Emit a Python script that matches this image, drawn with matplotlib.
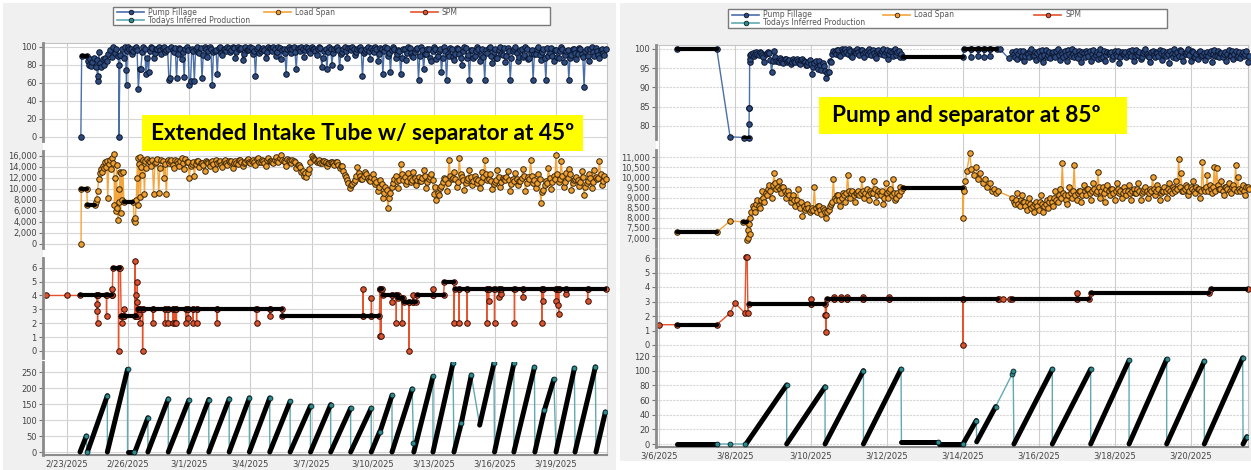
import matplotlib.pyplot as plt
from matplotlib.patches import Rectangle
from matplotlib.ticker import FuncFormatter

W, H = 1251, 470

# ---------------- left chart (x = days after 2/23/2025) ----------------
L_TICKS = [0, 3, 6, 9, 12, 15, 18, 21, 24]
L_LABELS = ["2/23/2025", "2/26/2025", "3/1/2025", "3/4/2025", "3/7/2025",
            "3/10/2025", "3/13/2025", "3/16/2025", "3/19/2025"]

# pump fillage (%)
PF_L_POINTS = [(0.68, 0), (1.02, 84), (1.08, 80), (1.12, 86), (1.2, 79), (1.25, 83),
               (1.32, 88), (1.4, 77), (1.45, 85), (1.5, 62), (1.52, 68), (1.55, 94),
               (1.6, 82), (1.68, 78), (1.75, 86), (1.8, 80), (1.88, 88), (1.95, 84),
               (2.0, 92), (2.1, 96), (2.2, 89), (2.28, 100), (2.35, 93), (2.42, 98),
               (2.5, 90), (2.54, 80), (2.55, 0), (2.6, 91), (2.7, 97), (2.8, 88),
               (2.86, 100), (2.9, 74), (2.92, 57), (2.96, 95)]
PF_L_RUNS = [(0.72, 0.97, 90)]
PF_L_GRID_START, PF_L_GRID_STEP = 3.0, 0.125
PF_L_GRID = [
    100, 98, 95, 100, 53, 75, 100, 70,
    72, 100, 88, 97, 100, 92, 100, 96,
    63, 100, 94, 65, 99, 86, 66, 100,
    58, 97, 62, 100, 93, 65, 100, 89,
    100, 57, 95, 70, 100, 91, 98, 100,
    94, 100, 88, 100, 97, 85, 100, 96,
    100, 92, 67, 100, 95, 99, 87, 100,
    97, 100, 90, 100, 86, 98, 70, 100,
    93, 100, 75, 97, 100, 89, 100, 95,
    100, 98, 91, 100, 78, 95, 75, 100,
    80, 97, 100, 77, 94, 100, 88, 99,
    100, 91, 97, 100, 67, 95, 100, 86,
    96, 100, 84, 99, 70, 100, 90, 72,
    100, 88, 96, 70, 98, 85, 100, 93,
    89, 97, 63, 100, 75, 92, 98, 84,
    100, 86, 95, 72, 100, 63, 90, 97,
    85, 99, 92, 80, 100, 88, 63, 96,
    90, 100, 84, 97, 63, 93, 100, 82,
    98, 87, 100, 91, 83, 99, 63, 95,
    100, 84, 96, 89, 100, 86, 93, 63,
    92, 100, 85, 97, 63, 90, 99, 84,
    96, 88, 100, 83, 95, 63, 91, 98,
    86, 99, 92, 55, 97, 84, 100, 90,
    95, 88, 98, 91]
PF_L_GRID_B_START = 3.0625
PF_L_GRID_B = [
    97, 92, 99, 96, 75, 94, 98, 88,
    95, 99, 93, 98, 96, 99, 94, 97,
    65, 96, 99, 92, 97, 94, 98, 96,
    62, 95, 98, 94, 99, 91, 97, 95,
    98, 94, 96, 99, 93, 97, 95, 99,
    96, 99, 94, 97, 99, 92, 96, 98,
    99, 95, 97, 93, 98, 96, 94, 99,
    95, 98, 94, 99, 96, 93, 97, 98,
    97, 94, 99, 95, 98, 96, 99, 93,
    98, 95, 97, 99, 88, 97, 94, 98,
    93, 99, 96, 92, 98, 95, 99, 96,
    97, 94, 99, 96, 93, 98, 95, 99,
    94, 97, 92, 98, 95, 99, 93, 96,
    98, 92, 95, 88, 97, 93, 99, 90,
    94, 99, 90, 96, 92, 98, 88, 95,
    97, 90, 98, 88, 95, 92, 99, 89,
    92, 97, 88, 95, 99, 91, 96, 87,
    95, 98, 91, 89, 96, 99, 90, 94,
    88, 96, 92, 99, 90, 95, 87, 98,
    93, 89, 97, 91, 98, 88, 96, 92,
    97, 91, 94, 88, 99, 93, 90, 96,
    89, 95, 98, 91, 96, 88, 97, 93,
    92, 98, 89, 95, 90, 97, 94, 99,
    91, 96, 93, 97]

# load span
LS_L_POINTS = [(0.69, 0), (1.4, 7500), (1.45, 8200), (1.5, 9500), (1.55, 11800),
               (1.6, 12800), (1.65, 13500), (1.7, 13000), (1.75, 14200), (1.8, 13800),
               (1.85, 14800), (1.9, 14000), (1.95, 15000), (2.0, 8300), (2.05, 14500),
               (2.1, 15200), (2.15, 13500), (2.2, 15600), (2.25, 14600), (2.3, 16400),
               (2.33, 7000), (2.36, 12000), (2.4, 6000), (2.43, 14300), (2.46, 6500),
               (2.5, 4300), (2.53, 10000), (2.56, 7500), (2.6, 13000), (2.63, 5500),
               (2.66, 12800), (2.7, 8000), (2.75, 13000), (3.3, 4300), (3.33, 4000),
               (3.36, 4600), (3.4, 8000), (3.43, 12000), (3.46, 15500), (3.5, 7000),
               (3.53, 14500), (3.56, 15800), (3.6, 8500), (3.65, 14000), (3.7, 12500),
               (3.75, 15200), (3.8, 9000), (3.85, 15000), (3.9, 13800), (3.95, 15400)]
LS_L_RUNS = [(0.70, 0.97, 10000), (1.0, 1.37, 7100), (2.79, 3.25, 7600)]
LS_L_GRID_START, LS_L_GRID_STEP = 4.0, 0.125
LS_L_GRID = [
    15000, 14200, 9000, 14800, 9200, 15300, 12000, 9000,
    14600, 15200, 13800, 15000, 14200, 15500, 13500, 14800,
    12000, 14500, 12300, 15000, 13900, 14600, 13200, 14900,
    14200, 15100, 13600, 14700, 15000, 14000, 15200, 14400,
    14800, 13800, 15000, 14500, 15300, 14100, 14900, 15400,
    14600, 15200, 14300, 15600, 14800, 15000, 14200, 15500,
    15100, 14600, 15700, 14900, 16100, 15000, 14200, 15300,
    14600, 15000, 13800, 14400, 13000, 12400, 12200, 13500,
    16000, 15400, 14800, 15300, 14600, 15000, 14100, 14700,
    14900, 14300, 14800, 13800, 14200, 12500, 11500, 10100,
    10800, 11600, 14000, 12300, 11800, 13000, 12000, 11400,
    12600, 10800, 9500, 11500, 8400, 10300, 6500, 9200,
    11000, 12400, 10200, 14500, 11600, 10800, 12800, 11200,
    13000, 10600, 12200, 11400, 13400, 10100, 11800, 12600,
    9000, 8000, 8800, 10500, 12000, 9600, 15200, 11800,
    13000, 10400, 15600, 12200, 9800, 11600, 13400, 10600,
    12400, 11000, 10200, 13000, 15200, 11500, 12600, 9900,
    11200, 13400, 10400, 12000, 11600, 13200, 9600, 11800,
    12800, 10600, 11400, 13600, 9500, 12200, 15200, 11000,
    10200, 12600, 7400, 9800, 11400, 13800, 10000, 12400,
    16100, 11200, 15000, 10400, 12800, 13600, 9800, 11600,
    12200, 10500, 13200, 8800, 11000, 12600, 10200, 13400,
    11800, 15000, 10600, 12400]
LS_L_GRID_B_START = 4.0625
LS_L_GRID_B = [
    14800, 15200, 14600, 15400, 13800, 15000, 14500, 15200,
    15000, 14400, 15300, 14700, 15100, 14600, 15400, 14900,
    14200, 14900, 14500, 15100, 14700, 14300, 15000, 14600,
    14900, 14500, 15200, 14800, 14400, 15100, 14700, 15000,
    15100, 14700, 14600, 15200, 14900, 14600, 15300, 14800,
    15000, 14800, 15400, 14900, 15200, 14700, 15300, 15000,
    14800, 15300, 15000, 15500, 15200, 14900, 15400, 15100,
    15200, 14800, 14300, 14000, 13200, 12800, 12900, 14800,
    15600, 15200, 15000, 14700, 15100, 14800, 14600, 14900,
    14600, 14900, 14400, 14100, 13300, 12200, 11000, 10600,
    11200, 12400, 12800, 11800, 12400, 12600, 11600, 12200,
    11800, 11200, 10400, 10800, 9200, 9800, 8400, 10400,
    11800, 11400, 11600, 12600, 12200, 11400, 12000, 11600,
    12000, 11600, 11400, 12000, 12400, 11200, 12200, 11600,
    10400, 9200, 10200, 11200, 11800, 11000, 12400, 12000,
    11800, 11200, 12600, 11600, 11000, 12000, 12200, 11400,
    11800, 11600, 11200, 12200, 12600, 11800, 11400, 10800,
    11600, 12200, 11200, 11800, 12200, 11600, 10800, 11400,
    11800, 11400, 12000, 12400, 11000, 11800, 12400, 11600,
    11000, 11800, 9400, 10600, 11000, 12000, 11200, 11800,
    12600, 11800, 12400, 11200, 12000, 12600, 11000, 11800,
    11600, 11200, 12200, 10400, 11400, 12000, 11200, 12200,
    12000, 12600, 11400, 11800]

# strokes per minute
SPM_L_POINTS = [(-1.04, 4.0), (-0.02, 4.0)]
SPM_L_RUNS = [(0.64, 2.22, 4.0), (2.25, 2.62, 6.0), (2.66, 3.45, 2.5), (3.5, 10.55, 3.0),
              (10.57, 15.33, 2.5), (15.36, 15.46, 4.5), (15.5, 16.22, 4.0),
              (16.25, 16.48, 3.8), (16.52, 17.12, 3.55), (17.2, 18.48, 4.0),
              (18.52, 18.98, 5.0), (19.02, 26.45, 4.5)]
SPM_L_SPIKES = [(1.49, 3.4), (1.49, 2.9), (1.5, 2.0), (1.94, 2.5), (2.2, 4.5), (2.53, 0.0),
                (2.72, 2.0), (2.78, 3.0), (3.33, 6.5), (3.4, 4.0), (3.42, 3.5), (3.45, 5.0),
                (3.55, 2.7), (3.6, 2.0), (3.71, 0.0), (4.23, 2.0), (4.8, 2.0), (4.97, 2.0),
                (5.21, 2.0), (5.29, 2.0), (5.37, 2.0), (5.83, 2.0), (5.95, 2.4), (6.19, 2.0),
                (6.36, 2.0), (7.37, 2.0), (9.3, 2.0), (9.95, 2.5), (14.52, 4.5), (14.94, 3.8),
                (15.38, 1.1), (15.42, 1.1), (15.96, 3.5), (16.16, 2.0), (16.45, 2.0),
                (16.78, 0.0), (16.98, 4.0), (17.94, 4.5), (18.99, 2.0), (19.23, 2.0),
                (19.64, 2.0), (20.6, 2.0), (20.69, 3.6), (20.98, 2.0), (21.2, 3.9),
                (21.3, 4.1), (21.96, 2.0), (22.37, 3.9), (23.3, 2.0), (23.38, 3.6),
                (24.0, 3.6), (24.08, 3.3), (24.13, 2.7), (24.5, 4.1), (25.55, 3.6)]

# todays inferred production: (t start, t end, value start, value end)
PROD_L_RAMPS = [(0.64, 0.95, 0, 50), (1.0, 1.98, 0, 176), (1.98, 2.97, 0, 258),
                (2.97, 3.3, 0, 0), (3.33, 3.97, 0, 107), (3.97, 4.97, 0, 166),
                (4.97, 5.98, 0, 162), (5.98, 6.96, 0, 164), (6.96, 7.96, 0, 166),
                (7.96, 8.95, 0, 169), (8.95, 9.95, 0, 169), (9.95, 10.95, 0, 158),
                (10.95, 11.95, 0, 144), (11.95, 12.94, 0, 148), (12.94, 13.92, 0, 137),
                (13.92, 14.93, 0, 137), (14.93, 15.34, 0, 63), (15.36, 15.95, 63, 177),
                (15.95, 16.94, 0, 197), (17.02, 17.96, 0, 236), (17.96, 18.94, 0, 277),
                (18.99, 19.35, 0, 90), (19.35, 19.84, 90, 240), (20.25, 20.95, 84, 277),
                (20.98, 21.93, 0, 277), (21.93, 22.94, 0, 265), (22.96, 23.43, 0, 131),
                (23.43, 23.89, 131, 227), (24.0, 24.9, 0, 262), (24.93, 25.93, 0, 266),
                (25.96, 26.42, 0, 125)]
PROD_L_EXTRA = [(0.98, 0), (17.0, 28)]

# ---------------- right chart (x = days after 3/6/2025) ----------------
R_TICKS = [0, 2, 4, 6, 8, 10, 12, 14]
R_LABELS = ["3/6/2025", "3/8/2025", "3/10/2025", "3/12/2025", "3/14/2025",
            "3/16/2025", "3/18/2025", "3/20/2025"]

PF_R_POINTS = [(1.87, 77.2), (2.37, 80.5), (2.375, 84.8), (2.38, 84.8), (2.385, 96.5),
               (2.39, 97.5), (8.97, 100.0), (9.2, 97.6)]
PF_R_RUNS = [(0.47, 1.52, 100.0), (2.24, 2.36, 77.0), (6.42, 8.0, 98.0), (8.02, 8.9, 100.0)]
PF_R_SPIKES = [(8.2, 98.0), (8.4, 98.2), (8.55, 97.8), (8.7, 98.1)]
PF_R_GRID_STEP = 0.0625
PF_R_GRID1_START = 2.4
PF_R_GRID1 = [
    98.5, 99.0, 98.6, 98.8, 99.2, 98.4, 96.5, 98.9, 99.0, 94.0, 99.4, 97.0, 96.5, 97.2, 96.4, 97.5,
    96.8, 96.2, 97.4, 96.6, 97.0, 96.0, 97.3, 96.5, 95.8, 97.1, 93.5, 96.4, 95.2, 96.8, 94.6, 95.5,
    92.5, 94.0, 96.6, 99.5, 98.6, 99.8, 98.2, 99.4, 100.0, 98.8, 99.6, 97.8, 99.2, 100.0, 98.5, 99.7,
    98.0, 99.5, 100.0, 98.4, 99.0, 97.6, 99.8, 98.7, 100.0, 99.1, 97.5, 99.6, 98.3, 100.0, 99.2, 98.0]
PF_R_GRID1B_START = 2.43125
PF_R_GRID1B = [
    98.8, 98.2, 99.1, 98.5, 98.9, 97.8, 98.6, 99.3, 97.2, 96.8, 97.9, 96.9, 97.6, 96.7, 97.3, 96.5,
    97.1, 96.5, 96.9, 97.5, 96.3, 97.2, 96.8, 95.9, 96.7, 96.2, 95.4, 97.0, 94.8, 95.9, 96.3, 94.2,
    93.8, 96.9, 98.8, 99.2, 99.7, 98.4, 99.9, 98.9, 99.3, 100.0, 98.2, 99.5, 98.9, 99.2, 99.8, 98.6,
    99.3, 98.6, 99.2, 99.7, 98.1, 99.4, 98.9, 99.6, 98.4, 99.8, 98.8, 99.1, 99.7, 98.5, 99.4, 98.8]
PF_R_GRID2_START = 9.3
PF_R_GRID2 = [
    99.2, 98.0, 97.4, 99.6, 98.3, 96.8, 99.0, 97.9, 100.0, 98.5, 97.2, 99.4, 98.1, 96.6, 99.7, 98.4,
    97.6, 99.3, 98.0, 100.0, 97.1, 98.8, 99.5, 96.9, 98.6, 99.9, 97.8, 98.2, 99.4, 96.5, 98.9, 99.6,
    98.3, 97.0, 99.8, 98.5, 97.4, 100.0, 98.0, 96.8, 99.1, 98.7, 97.5, 99.6, 98.2, 96.3, 99.3, 98.6,
    97.9, 99.5, 98.1, 96.9, 99.8, 98.4, 97.3, 99.0, 100.0, 98.2, 96.7, 99.4, 97.8, 98.9, 99.7, 97.2,
    98.5, 99.2, 96.4, 98.8, 99.9, 97.6, 98.3, 99.5, 97.0, 98.7, 100.0, 96.8, 99.1, 98.0, 97.5, 99.6,
    98.4, 97.1, 99.3, 98.9, 96.6, 99.7, 98.2, 97.8, 99.0, 98.6, 96.9, 99.8, 98.1, 97.4, 99.5, 98.3,
    97.7, 99.2, 98.8, 96.5]
PF_R_GRID2B_START = 9.33125
PF_R_GRID2B = [
    98.6, 99.4, 98.8, 97.9, 99.6, 98.2, 98.7, 99.5, 98.1, 99.2, 98.9, 97.6, 99.7, 98.4, 98.0, 99.3,
    98.9, 98.1, 99.6, 98.5, 99.1, 97.8, 98.4, 99.7, 98.2, 98.8, 99.4, 97.7, 98.6, 99.2, 98.0, 99.0,
    99.5, 98.6, 98.0, 99.3, 98.8, 97.6, 99.6, 98.4, 98.9, 99.2, 98.1, 98.7, 99.5, 97.9, 98.8, 99.1,
    98.4, 98.9, 99.7, 98.2, 98.6, 99.3, 98.0, 99.5, 98.7, 97.8, 99.1, 98.5, 99.2, 98.3, 98.9, 99.6,
    98.1, 98.8, 99.4, 97.9, 98.6, 99.2, 99.7, 98.0, 98.9, 99.3, 98.4, 99.5, 97.8, 98.7, 99.1, 98.2,
    99.0, 98.5, 98.1, 99.6, 98.8, 98.3, 99.4, 98.9, 97.9, 99.2, 98.6, 98.2, 99.5, 98.8, 98.0, 99.1,
    98.6, 98.3, 99.4, 98.1]

LS_R_POINTS = [(1.87, 7840), (2.32, 6900), (2.33, 7400), (2.35, 7000), (2.37, 7700),
               (2.39, 7200), (8.0, 7970), (8.02, 9300), (8.06, 9800), (8.1, 10300),
               (8.18, 11180), (8.22, 10400), (8.28, 10100), (8.34, 10500), (8.4, 9900),
               (8.46, 10200), (8.52, 9700), (8.58, 9900), (8.64, 9500), (8.7, 9700),
               (8.76, 9300), (8.82, 9400), (8.88, 9200), (8.92, 9300)]
LS_R_RUNS = [(0.47, 1.52, 7280), (2.21, 2.31, 7800), (6.42, 7.99, 9480)]
LS_R_GRID1_START = 2.4
LS_R_GRID1 = [
    8000, 8600, 8300, 8900, 8500, 9300, 8800, 9100, 9600, 9000, 10200, 9400, 9800, 9200, 9500, 9000,
    9300, 8800, 9100, 8600, 9400, 8500, 8100, 8400, 8700, 8300, 8500, 9500, 8300, 8600, 8200, 8400,
    8000, 8400, 8700, 9900, 8900, 9100, 8600, 9200, 8800, 10100, 9000, 9300, 8800, 9200, 9100, 9900,
    9000, 9400, 8900, 9200, 9800, 8800, 9300, 9100, 8700, 9700, 9000, 9400, 9900, 8900, 9200, 9500]
LS_R_GRID1B_START = 2.43125
LS_R_GRID1B = [
    8300, 8500, 8700, 8600, 8900, 9000, 9200, 9400, 9300, 9600, 9700, 9500, 9400, 9500, 9300, 9200,
    9100, 9000, 8900, 8900, 8700, 8800, 8600, 8500, 8500, 8400, 8400, 8500, 8600, 8400, 8500, 8300,
    8300, 8600, 8800, 9000, 9100, 8900, 9000, 9100, 9200, 9300, 9200, 9100, 9200, 9300, 9200, 9300,
    9200, 9100, 9300, 9200, 9400, 9100, 9200, 9300, 9000, 9200, 9300, 9100, 9200, 9000, 9100, 9300]
LS_R_GRID2_START = 9.3
LS_R_GRID2 = [
    9000, 8700, 9200, 8600, 9100, 8800, 8400, 9000, 8500, 8300, 8800, 8400, 9100, 8300, 8700, 8500,
    9000, 8600, 9300, 8800, 9400, 10690, 9100, 8700, 9500, 9000, 10600, 8900, 9300, 8800, 9600, 9100,
    9400, 8900, 9700, 9200, 10270, 9000, 9500, 8800, 9600, 9100, 9400, 8900, 9700, 9200, 9000, 9500,
    9100, 9600, 8900, 9400, 9200, 9700, 8900, 9300, 9500, 9000, 9400, 10030, 9100, 9600, 8900, 9300,
    9500, 9000, 9700, 9200, 9400, 9800, 10900, 10200, 9300, 9600, 9100, 9500, 9800, 9200, 9400, 9000,
    10770, 9300, 10100, 9600, 9200, 10500, 10450, 9400, 9800, 9100, 9500, 9700, 9200, 9600, 10600, 10000,
    9300, 9600, 9100, 9500]
LS_R_GRID2B_START = 9.33125
LS_R_GRID2B = [
    8800, 8900, 8700, 8900, 8800, 8600, 8800, 8700, 8600, 8700, 8600, 8800, 8700, 8600, 8900, 8800,
    8800, 9000, 8900, 9100, 9000, 9200, 8900, 9100, 9200, 9300, 9100, 9200, 9300, 9100, 9300, 9400,
    9200, 9300, 9400, 9300, 9500, 9300, 9200, 9400, 9300, 9400, 9200, 9300, 9400, 9300, 9200, 9300,
    9300, 9200, 9300, 9200, 9400, 9300, 9200, 9400, 9300, 9200, 9300, 9400, 9300, 9400, 9200, 9300,
    9300, 9400, 9300, 9500, 9300, 9400, 9500, 9300, 9400, 9500, 9300, 9400, 9300, 9500, 9400, 9300,
    9400, 9500, 9300, 9400, 9500, 9300, 9600, 9400, 9300, 9500, 9400, 9300, 9500, 9400, 9300, 9400,
    9400, 9300, 9500, 9400]

SPM_R_POINTS = [(0.0, 1.4), (1.87, 2.2), (2.0, 2.9), (2.26, 2.2), (2.29, 6.1), (2.32, 6.1),
                (2.34, 2.2), (4.38, 2.1), (4.39, 0.9), (4.4, 2.1), (8.95, 3.15),
                (9.05, 3.15), (9.24, 3.15)]
SPM_R_RUNS = [(0.47, 1.52, 1.4), (2.36, 4.37, 2.85), (4.42, 8.92, 3.15), (9.3, 11.32, 3.15),
              (11.36, 14.48, 3.58), (14.52, 15.5, 3.88)]
SPM_R_SPIKES = [(4.0, 3.2), (4.6, 3.3), (4.79, 3.3), (4.94, 3.3), (5.36, 3.3), (6.06, 3.3),
                (8.0, 0.0), (11.0, 3.6)]

PROD_R_RAMPS = [(0.47, 1.52, 0, 0), (2.29, 3.36, 0, 80.5), (3.36, 4.37, 0, 78),
                (4.37, 5.38, 0, 100), (5.38, 6.37, 0, 102), (6.38, 7.34, 3, 3),
                (7.36, 8.0, 0.5, 0.5), (8.0, 8.35, 0, 32), (8.36, 8.86, 3, 51),
                (9.34, 10.35, 0, 102), (10.35, 11.36, 0, 102), (11.36, 12.37, 0, 114),
                (12.37, 13.36, 0, 115.5), (13.36, 14.35, 0, 113), (14.35, 15.36, 0, 117.5),
                (15.37, 15.47, 0, 10)]
PROD_R_EXTRA = [(1.87, 0), (2.26, 0), (9.3, 96), (9.32, 100)]

# ---------------- styles ----------------
PF_ST = dict(line="#4b6fa8", face="#2d4a7c", edge="#0b1630")
LS_ST = dict(line="#f4a53c", face="#f0a030", edge="#3a2608")
SPM_ST = dict(line="#e5532c", face="#d9532f", edge="#3a1008")
PROD_ST = dict(line="#62aab2", face="#2e8a8f", edge="#0a2526")


def grid_points(start, step, vals):
    return [(start + i * step, v) for i, v in enumerate(vals)]


def merge(points, runs=(), spikes=()):
    items = list(points)
    for t0, t1, v in runs:
        items += [(t0, v), (t1, v)]
    for t, v in spikes:
        lvl = next((rv for r0, r1, rv in runs if r0 <= t <= r1), None)
        if lvl is None:
            items.append((t, v))
        else:
            items += [(t - 0.002, lvl), (t, v), (t + 0.002, lvl)]
    items.sort(key=lambda p: p[0])
    return [p[0] for p in items], [p[1] for p in items]


def ramp_path(ramps, extra):
    ts, vs = [], []
    ex = sorted(extra)
    for t0, t1, v0, v1 in ramps:
        while ex and ex[0][0] <= t0:
            t, v = ex.pop(0)
            ts.append(t)
            vs.append(v)
        ts += [t0, t1]
        vs += [v0, v1]
    for t, v in ex:
        ts.append(t)
        vs.append(v)
    return ts, vs


fig = plt.figure(figsize=(W / 100, H / 100), dpi=100)

bg = fig.add_axes([0, 0, 1, 1], zorder=-5)
bg.set_xlim(0, W)
bg.set_ylim(H, 0)
bg.axis("off")
bg.add_patch(Rectangle((3, 3), 613, 467, facecolor="#f0f0f0", edgecolor="none"))
bg.add_patch(Rectangle((620, 3), 631, 458, facecolor="#f0f0f0", edgecolor="none"))


def px_axes(x0, x1, ytop, ybot, z):
    return fig.add_axes([x0 / W, 1 - ybot / H, (x1 - x0) / W, (ybot - ytop) / H], zorder=z)


def frame(x0, x1, ytop, ybot, xlim, ticks, labels):
    ax = px_axes(x0, x1, ytop, ybot, 0)
    ax.set_facecolor("white")
    ax.set_xlim(*xlim)
    ax.set_ylim(0, 1)
    ax.set_yticks([])
    ax.set_xticks(ticks)
    ax.set_xticklabels(labels)
    ax.tick_params(axis="x", length=0, pad=3, labelsize=6, labelcolor="#444")
    ax.grid(axis="x", color="#cdcdcd", lw=0.8)
    for s in ("top", "right"):
        ax.spines[s].set_color("#c4c4c4")
        ax.spines[s].set_linewidth(0.8)
    ax.spines["left"].set_visible(False)
    ax.spines["bottom"].set_color("#8c8c8c")
    ax.spines["bottom"].set_linewidth(1.5)
    return ax


def panel(x0, x1, ytop, ybot, v_hi, y_hi, v_lo, y_lo, xlim, yticks, gls, fmt=None):
    ax = px_axes(x0, x1, ytop, ybot, 1)
    ax.set_facecolor("none")
    k = (v_hi - v_lo) / (y_lo - y_hi)
    ax.set_ylim(v_lo - (ybot - y_lo) * k, v_hi + (y_hi - ytop) * k)
    ax.set_xlim(*xlim)
    ax.set_xticks([])
    ax.set_yticks(yticks)
    if fmt:
        ax.yaxis.set_major_formatter(FuncFormatter(fmt))
    ax.tick_params(axis="y", labelsize=6, labelcolor="#444", color="#777",
                   length=3, width=0.8, pad=1.5)
    ax.grid(axis="y", color="#d6d6d6", lw=0.8, linestyle=gls)
    for s in ("top", "right", "bottom"):
        ax.spines[s].set_visible(False)
    ax.spines["left"].set_color("#8a8a8a")
    ax.spines["left"].set_linewidth(2)
    return ax


def draw_series(ax, ts, vs, runs, st):
    ax.plot(ts, vs, color=st["line"], lw=1.0, marker="o", ms=4.0, mfc=st["face"],
            mec=st["edge"], mew=0.7, zorder=2, clip_on=False)
    for t0, t1, v in runs:
        ax.plot([t0, t1], [v, v], color="black", lw=3.0, solid_capstyle="round", zorder=3)


def draw_prod(ax, ramps, extra, st):
    ts, vs = ramp_path(ramps, extra)
    ax.plot(ts, vs, color=st["line"], lw=1.0, zorder=2)
    for t0, t1, v0, v1 in ramps:
        ax.plot([t0, t1], [v0, v1], color="black", lw=3.6, solid_capstyle="round", zorder=3)
    ax.plot([r[1] for r in ramps], [r[3] for r in ramps], "o", ms=3.5, mfc=st["face"],
            mec=st["edge"], mew=0.6, zorder=4)
    ax.plot([e[0] for e in extra], [e[1] for e in extra], "o", ms=3.5, mfc=st["face"],
            mec=st["edge"], mew=0.6, zorder=4)


thou = lambda v, p: f"{v:,.0f}"

# ---- left chart ----
LX = (-1.178, 26.5)
frame(43, 607, 43, 455, LX, L_TICKS, L_LABELS)

ax = panel(43, 607, 43, 141, 100, 46.7, 0, 136.7, LX, [0, 20, 40, 60, 80, 100], "-")
pts = (PF_L_POINTS + grid_points(PF_L_GRID_START, PF_L_GRID_STEP, PF_L_GRID)
       + grid_points(PF_L_GRID_B_START, PF_L_GRID_STEP, PF_L_GRID_B))
t, v = merge(pts, PF_L_RUNS)
draw_series(ax, t, v, PF_L_RUNS, PF_ST)

ax = panel(43, 607, 151, 248, 16000, 155.7, 0, 243.7, LX, list(range(0, 16001, 2000)), "-", thou)
pts = (LS_L_POINTS + grid_points(LS_L_GRID_START, LS_L_GRID_STEP, LS_L_GRID)
       + grid_points(LS_L_GRID_B_START, LS_L_GRID_STEP, LS_L_GRID_B))
t, v = merge(pts, LS_L_RUNS)
draw_series(ax, t, v, LS_L_RUNS, LS_ST)

ax = panel(43, 607, 258, 358, 6, 267.7, 0, 351, LX, [0, 1, 2, 3, 4, 5, 6], "-")
t, v = merge(SPM_L_POINTS, SPM_L_RUNS, SPM_L_SPIKES)
draw_series(ax, t, v, SPM_L_RUNS, SPM_ST)

ax = panel(43, 607, 362, 455, 250, 372, 0, 452, LX, [0, 50, 100, 150, 200, 250], "-")
draw_prod(ax, PROD_L_RAMPS, PROD_L_EXTRA, PROD_ST)

# ---- right chart ----
RX = (-0.079, 15.5)
frame(656, 1248, 45, 447, RX, R_TICKS, R_LABELS)

ax = panel(656, 1248, 45, 139, 100, 49, 80, 126, RX, [80, 85, 90, 95, 100], (0, (2, 1)))
pts = (PF_R_POINTS + grid_points(PF_R_GRID1_START, PF_R_GRID_STEP, PF_R_GRID1)
       + grid_points(PF_R_GRID1B_START, PF_R_GRID_STEP, PF_R_GRID1B)
       + grid_points(PF_R_GRID2_START, PF_R_GRID_STEP, PF_R_GRID2)
       + grid_points(PF_R_GRID2B_START, PF_R_GRID_STEP, PF_R_GRID2B))
t, v = merge(pts, PF_R_RUNS, PF_R_SPIKES)
draw_series(ax, t, v, PF_R_RUNS, PF_ST)

ax = panel(656, 1248, 150, 247, 11000, 157, 7000, 238, RX, list(range(7000, 11001, 500)),
           (0, (2, 1)), thou)
pts = (LS_R_POINTS + grid_points(LS_R_GRID1_START, PF_R_GRID_STEP, LS_R_GRID1)
       + grid_points(LS_R_GRID1B_START, PF_R_GRID_STEP, LS_R_GRID1B)
       + grid_points(LS_R_GRID2_START, PF_R_GRID_STEP, LS_R_GRID2)
       + grid_points(LS_R_GRID2B_START, PF_R_GRID_STEP, LS_R_GRID2B))
t, v = merge(pts, LS_R_RUNS)
draw_series(ax, t, v, LS_R_RUNS, LS_ST)

ax = panel(656, 1248, 250, 349, 6, 258, 0, 345, RX, [0, 1, 2, 3, 4, 5, 6], (0, (2, 1)))
t, v = merge(SPM_R_POINTS, SPM_R_RUNS, SPM_R_SPIKES)
draw_series(ax, t, v, SPM_R_RUNS, SPM_ST)

ax = panel(656, 1248, 351, 447, 120, 356, 0, 444, RX, [0, 20, 40, 60, 80, 100, 120], (0, (2, 1)))
draw_prod(ax, PROD_R_RAMPS, PROD_R_EXTRA, PROD_ST)

# ---- legends and captions ----
ov = fig.add_axes([0, 0, 1, 1], zorder=10)
ov.set_xlim(0, W)
ov.set_ylim(H, 0)
ov.axis("off")


def legend(x0, y0, w, h, gap):
    ov.add_patch(Rectangle((x0, y0), w, h, facecolor="white", edgecolor="#7a7a7a", lw=1))
    r1, r2 = y0 + h * 0.3, y0 + h * 0.74
    entries = [(x0 + 4, r1, "Pump Fillage", PF_ST), (x0 + 4 + gap, r1, "Load Span", LS_ST),
               (x0 + 4 + 2 * gap, r1, "SPM", SPM_ST),
               (x0 + 4, r2, "Todays Inferred Production", PROD_ST)]
    for x, y, label, st in entries:
        ov.plot([x, x + 27], [y, y], color=st["line"], lw=1.2)
        ov.plot([x + 14], [y], "o", ms=3.3, mfc=st["face"], mec=st["edge"], mew=0.6)
        ov.text(x + 31, y, label, fontsize=5.5, va="center", color="#555")


legend(113, 6.5, 437, 18.5, 147)
legend(728, 9, 439, 18.5, 151)

ov.add_patch(Rectangle((142, 115), 441, 36, facecolor="#ffff00", edgecolor="none"))
ov.text(362.5, 133.5, "Extended Intake Tube w/ separator at 45º", ha="center", va="center",
        fontsize=16.3, fontweight="bold", family="Lato", color="black")
ov.add_patch(Rectangle((819, 97), 308, 37, facecolor="#ffff00", edgecolor="none"))
ov.text(966, 116, "Pump and separator at 85º", ha="center", va="center",
        fontsize=16.3, fontweight="bold", family="Lato", color="black")

fig.savefig("out.png", dpi=100)
